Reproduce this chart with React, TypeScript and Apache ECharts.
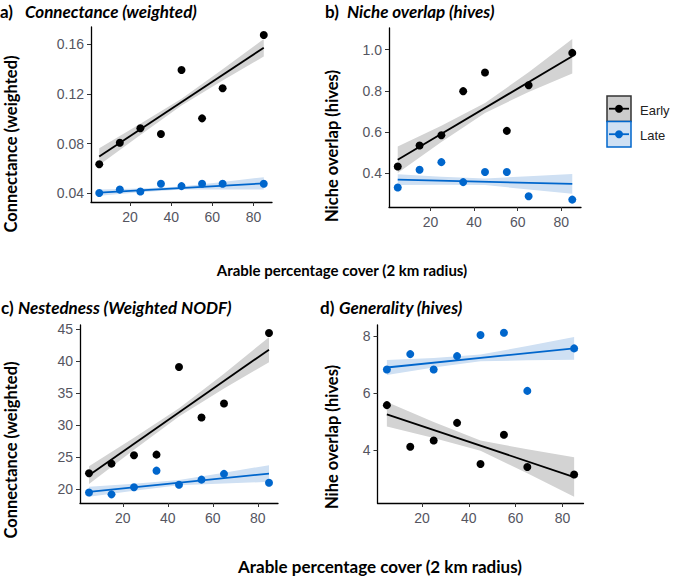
import React, { useEffect, useRef } from "react";
import * as echarts from "echarts";

// ---- data ----
const xVals = [5, 15, 25, 35, 45, 55, 65, 85];
const xTicks = [20, 40, 60, 80];
const xFit = [5, 25, 45, 65, 85];

// a) Connectance (weighted)
const aEarly = [0.0634, 0.0808, 0.0924, 0.0878, 0.1393, 0.1004, 0.1246, 0.1675];
const aLate = [0.0403, 0.043, 0.0414, 0.0477, 0.0458, 0.0477, 0.0477, 0.0477];
const aEarlyFit = [0.0696, 0.1573];
const aEarlyHW = [0.0067, 0.0045, 0.0027, 0.0045, 0.007];
const aLateFit = [0.0405, 0.048];
const aLateHW = [0.0025, 0.0015, 0.0012, 0.003, 0.005];
const aTicks = [0.04, 0.08, 0.12, 0.16];

// b) Niche overlap (hives)
const bEarly = [0.432, 0.534, 0.584, 0.798, 0.889, 0.605, 0.827, 0.984];
const bLate = [0.33, 0.416, 0.453, 0.356, 0.405, 0.405, 0.287, 0.271];
const bEarlyFit = [0.4645, 0.968];
const bEarlyHW = [0.064, 0.04, 0.024, 0.048, 0.084];
const bLateFit = [0.368, 0.347];
const bLateHW = [0.026, 0.019, 0.016, 0.032, 0.048];
const bTicks = [0.4, 0.6, 0.8, 1.0];

// c) Nestedness (Weighted NODF)
const cEarly = [22.5, 24.0, 25.3, 25.4, 39.1, 31.2, 33.4, 44.4];
const cLate = [19.5, 19.2, 20.3, 22.9, 20.7, 21.5, 22.4, 21.0];
const cEarlyFit = [22.2, 41.8];
const cEarlyHW = [1.4, 0.94, 0.63, 1.15, 1.95];
const cLateFit = [19.6, 22.45];
const cLateHW = [0.78, 0.55, 0.42, 0.85, 1.3];
const cTicks = [20, 25, 30, 35, 40, 45];

// d) Generality (hives)
const dEarly = [5.58, 4.12, 4.34, 4.96, 3.52, 4.54, 3.41, 3.15];
const dLate = [6.83, 7.37, 6.83, 7.3, 8.04, 8.12, 6.08, 7.57];
const dEarlyFit = [5.26, 3.06];
const dEarlyHW = [0.43, 0.28, 0.18, 0.42, 0.69];
const dLateFit = [6.9, 7.57];
const dLateHW = [0.26, 0.17, 0.12, 0.25, 0.4];
const dTicks = [4, 6, 8];

const BLACK = "#000000";
const BLUE = "#0066CC";
const GREY_BAND = "#d3d3d3";
const BLUE_BAND = "#cfe0f3";
const TICK_COL = "#55555f";
const TFONT = "Lato";

const grids = [
  { left: 91, top: 27, width: 181, height: 175, ymin: 0.033, ymax: 0.174, ticks: aTicks, dec: 2 },
  { left: 389, top: 28, width: 192, height: 179, ymin: 0.235, ymax: 1.105, ticks: bTicks, dec: 1 },
  { left: 80, top: 325, width: 198, height: 178, ymin: 17.85, ymax: 45.65, ticks: cTicks, dec: 0 },
  { left: 377.5, top: 325, width: 206, height: 178, ymin: 2.15, ymax: 8.39, ticks: dTicks, dec: 0 },
];

const panels = [
  { early: aEarly, late: aLate, ef: aEarlyFit, ehw: aEarlyHW, lf: aLateFit, lhw: aLateHW },
  { early: bEarly, late: bLate, ef: bEarlyFit, ehw: bEarlyHW, lf: bLateFit, lhw: bLateHW },
  { early: cEarly, late: cLate, ef: cEarlyFit, ehw: cEarlyHW, lf: cLateFit, lhw: cLateHW },
  { early: dEarly, late: dLate, ef: dEarlyFit, ehw: dEarlyHW, lf: dLateFit, lhw: dLateHW },
];

function bandSeries(gi: number, fit: number[], hw: number[], color: string) {
  const x0 = xFit[0];
  const x1 = xFit[xFit.length - 1];
  const pts = xFit.map((x, i) => {
    const y = fit[0] + ((fit[1] - fit[0]) * (x - x0)) / (x1 - x0);
    return [x, y - hw[i], y + hw[i]];
  });
  return {
    type: "custom",
    xAxisIndex: gi,
    yAxisIndex: gi,
    silent: true,
    z: 1,
    data: pts,
    encode: { x: 0, y: [1, 2] },
    renderItem: (params: any, api: any) => {
      if (params.dataIndex !== 0) return null;
      const up = pts.map((p) => api.coord([p[0], p[2]]));
      const lo = pts
        .slice()
        .reverse()
        .map((p) => api.coord([p[0], p[1]]));
      return {
        type: "polygon",
        shape: { points: up.concat(lo) },
        style: { fill: color },
      };
    },
  };
}

function lineSeries(gi: number, fit: number[], color: string) {
  return {
    type: "line",
    xAxisIndex: gi,
    yAxisIndex: gi,
    data: [
      [xFit[0], fit[0]],
      [xFit[xFit.length - 1], fit[1]],
    ],
    showSymbol: false,
    silent: true,
    z: 3,
    lineStyle: { color, width: 1.8 },
  };
}

function scatterSeries(gi: number, vals: number[], color: string) {
  return {
    type: "scatter",
    xAxisIndex: gi,
    yAxisIndex: gi,
    data: xVals.map((x, i) => [x, vals[i]]),
    symbolSize: 8,
    z: 4,
    itemStyle: { color, opacity: 1 },
  };
}

function txt(x: number, y: number, text: string, opts: any = {}) {
  return {
    type: "text",
    x,
    y,
    rotation: opts.rotation || 0,
    style: {
      text,
      fill: opts.fill || "#000",
      fontSize: opts.fontSize || 17,
      fontWeight: opts.fontWeight || "bold",
      fontStyle: opts.fontStyle || "normal",
      fontFamily: opts.fontFamily || TFONT,
      align: opts.align || "left",
      verticalAlign: "middle",
    },
  };
}

export default function App() {
  const ref = useRef<HTMLDivElement>(null);
  useEffect(() => {
    if (!ref.current) return;
    const chart = echarts.init(ref.current, null, { renderer: "svg" });

    const xAxis = grids.map((g, i) => ({
      type: "value",
      gridIndex: i,
      min: 1,
      max: 89,
      axisLine: { show: true, onZero: false, lineStyle: { color: "#000", width: 1.3 } },
      axisTick: { show: true, length: 4, customValues: xTicks, lineStyle: { color: "#333" } },
      axisLabel: {
        customValues: xTicks,
        color: TICK_COL,
        fontSize: 14,
        margin: 8,
        fontFamily: "Liberation Sans",
      },
      splitLine: { show: false },
    }));

    const yAxis = grids.map((g, i) => ({
      type: "value",
      gridIndex: i,
      min: g.ymin,
      max: g.ymax,
      axisLine: { show: true, onZero: false, lineStyle: { color: "#000", width: 1.3 } },
      axisTick: { show: true, length: 4, customValues: g.ticks, lineStyle: { color: "#333" } },
      axisLabel: {
        customValues: g.ticks,
        color: TICK_COL,
        fontSize: 14,
        margin: 7,
        fontFamily: "Liberation Sans",
        formatter: (v: number) => v.toFixed(g.dec),
      },
      splitLine: { show: false },
    }));

    const series: any[] = [];
    panels.forEach((p, i) => {
      series.push(bandSeries(i, p.ef, p.ehw, GREY_BAND));
      series.push(bandSeries(i, p.lf, p.lhw, BLUE_BAND));
      series.push(lineSeries(i, p.ef, BLACK));
      series.push(lineSeries(i, p.lf, BLUE));
      series.push(scatterSeries(i, p.early, BLACK));
      series.push(scatterSeries(i, p.late, BLUE));
    });

    const graphic: any[] = [
      // panel titles
      txt(0, 11, "a)"),
      txt(25, 11, "Connectance (weighted)", { fontStyle: "italic" }),
      txt(325, 11, "b)"),
      txt(347, 11, "Niche overlap (hives)", { fontStyle: "italic" }),
      txt(1, 307, "c)"),
      txt(18, 307, "Nestedness (Weighted NODF)", { fontStyle: "italic" }),
      txt(320, 307, "d)"),
      txt(339, 307, "Generality (hives)", { fontStyle: "italic" }),
      // y titles
      txt(11, 144, "Connectance (weighted)", { rotation: Math.PI / 2, align: "center", fontSize: 16.5 }),
      txt(332, 146, "Niche overlap (hives)", { rotation: Math.PI / 2, align: "center", fontSize: 16.5 }),
      txt(11, 450, "Connectance (weighted)", { rotation: Math.PI / 2, align: "center", fontSize: 16.5 }),
      txt(332, 437, "Nihe overlap (hives)", { rotation: Math.PI / 2, align: "center", fontSize: 16.5 }),
      // x titles
      txt(342, 270, "Arable percentage cover (2 km radius)", { align: "center", fontSize: 15 }),
      txt(380, 566, "Arable percentage cover (2 km radius)", { align: "center", fontSize: 17 }),
      // legend
      {
        type: "rect",
        shape: { x: 607, y: 96, width: 24, height: 25.5 },
        style: { fill: "#cccccc", stroke: "#333333", lineWidth: 1.5 },
      },
      {
        type: "line",
        shape: { x1: 609, y1: 108.7, x2: 629, y2: 108.7 },
        style: { stroke: BLACK, lineWidth: 1.8 },
      },
      { type: "circle", shape: { cx: 619, cy: 108.7, r: 4 }, style: { fill: BLACK } },
      {
        type: "rect",
        shape: { x: 607, y: 121.5, width: 24, height: 25.5 },
        style: { fill: BLUE_BAND, stroke: BLUE, lineWidth: 1.5 },
      },
      {
        type: "line",
        shape: { x1: 609, y1: 134.2, x2: 629, y2: 134.2 },
        style: { stroke: BLUE, lineWidth: 1.8 },
      },
      { type: "circle", shape: { cx: 619, cy: 134.2, r: 4 }, style: { fill: BLUE } },
      txt(640, 110, "Early", { fontSize: 13, fontWeight: "normal", fontFamily: "Liberation Sans", fill: "#222" }),
      txt(640, 135, "Late", { fontSize: 13, fontWeight: "normal", fontFamily: "Liberation Sans", fill: "#222" }),
    ];

    chart.setOption({
      animation: false,
      backgroundColor: "#ffffff",
      grid: grids.map((g) => ({ left: g.left, top: g.top, width: g.width, height: g.height, containLabel: false })),
      xAxis,
      yAxis,
      series,
      graphic,
    });
    return () => chart.dispose();
  }, []);
  return (
    <div
      ref={ref}
      style={{ position: "fixed", left: 0, top: 0, width: 685, height: 579 }}
    />
  );
}
